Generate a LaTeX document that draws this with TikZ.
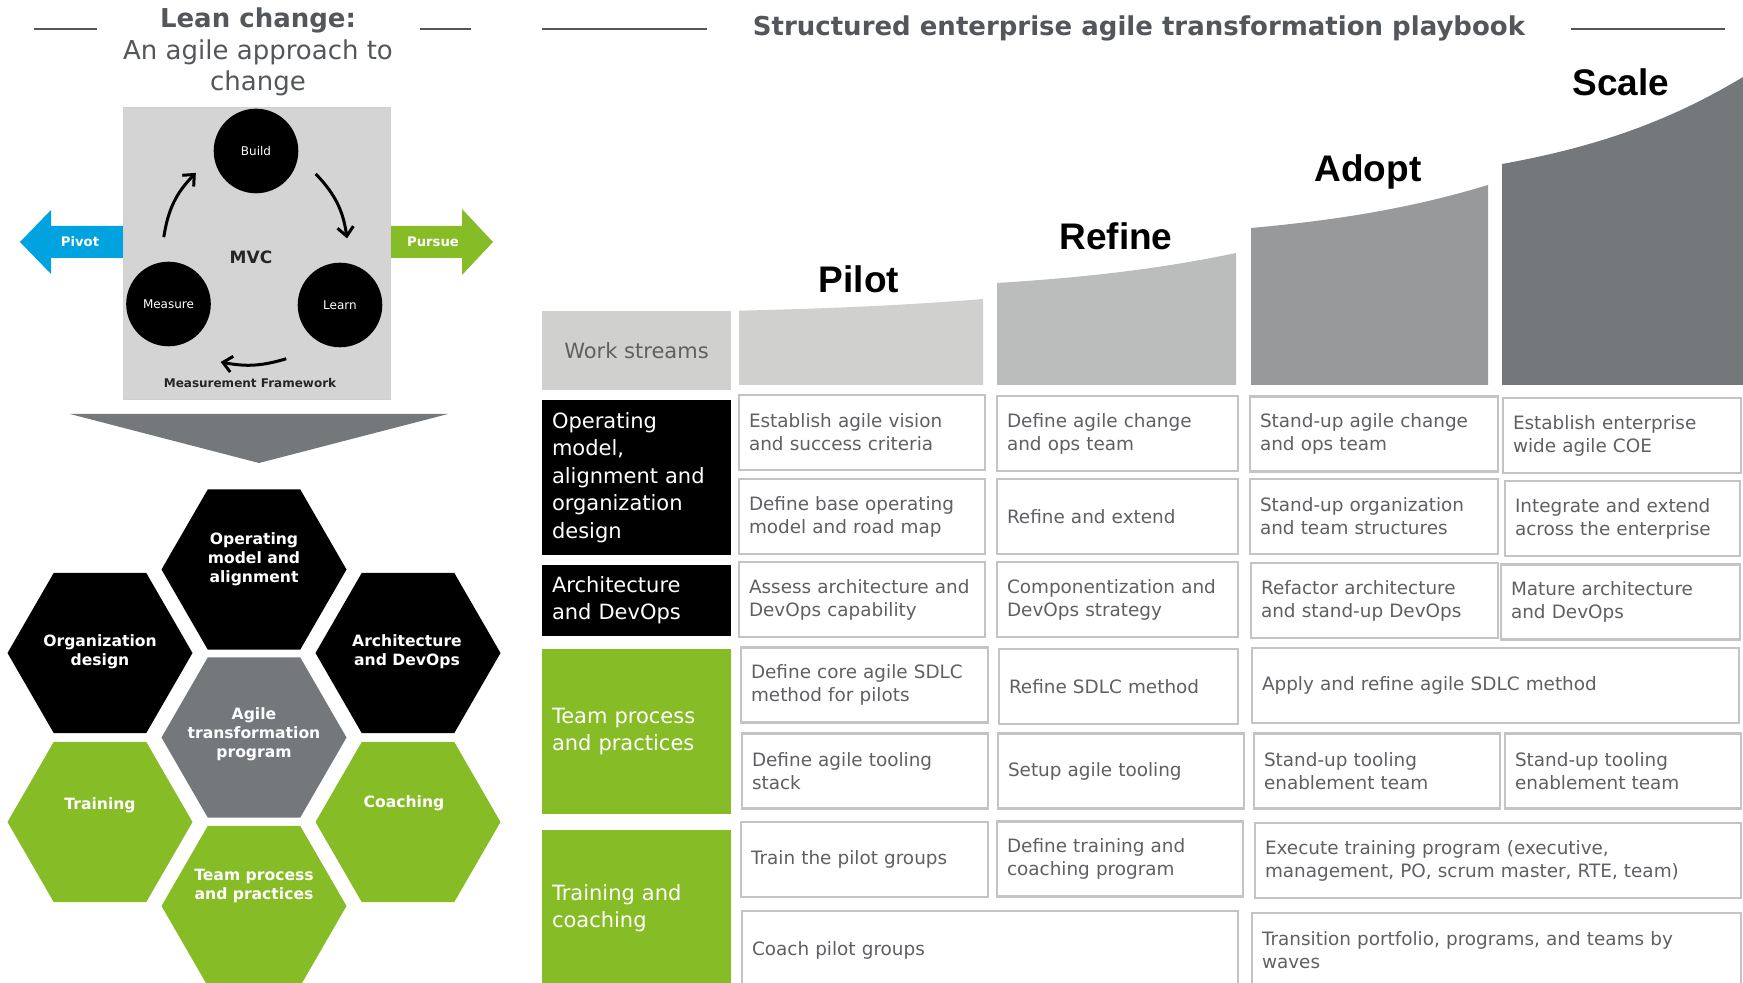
\documentclass[tikz,border=0pt]{standalone}
\usepackage{fontspec}
\setmainfont{DejaVu Sans}
\newfontfamily\stagefont{Liberation Sans}
\usetikzlibrary{arrows.meta,shapes.geometric}

\definecolor{agreen}{HTML}{86BC25}
\definecolor{ablue}{HTML}{00A3E0}
\definecolor{greyA}{HTML}{D0D0CE}
\definecolor{greyB}{HTML}{BBBCBC}
\definecolor{greyC}{HTML}{97999B}
\definecolor{greyD}{HTML}{75787B}
\definecolor{mvcgrey}{HTML}{D4D4D4}
\definecolor{titlegrey}{HTML}{53565A}
\definecolor{txtgrey}{HTML}{5F6063}
\definecolor{cellline}{HTML}{C4C4C4}

\begin{document}
\begin{tikzpicture}[
            x = 0.5pt, y = -0.5pt, % one unit = one pixel, y downwards
            rule/.style = {titlegrey, line width=1pt},
            heading/.style = {anchor=base, text=titlegrey, font=\fontsize{13}{15.5}\selectfont},
            stage/.style = {anchor=base, font=\stagefont\bfseries\fontsize{18.5}{20}\selectfont},
            cycnode/.style = {circle, fill=black, minimum size=42.3pt, inner sep=0pt,
                              text=white, font=\fontsize{6}{7}\selectfont},
            cyc/.style = {-{Straight Barb[length=4.5pt,width=8pt]}, line width=1.5pt, bend left=18},
            hexa/.style = {regular polygon, regular polygon sides=6, minimum size=92.5pt, inner sep=0pt},
            hextext/.style = {text=white, align=center, font=\bfseries\fontsize{7.8}{9.6}\selectfont},
            hdr/.style = {text=white, align=left, inner xsep=5pt, inner ysep=0pt, text width=84.5pt,
                          font=\fontsize{10.5}{13.7}\selectfont},
            cell/.style = {draw=cellline, line width=1.1pt, fill=white, text=txtgrey, align=left,
                           inner xsep=5pt, inner ysep=0pt, minimum height=37.5pt,
                           font=\fontsize{9.2}{11.5}\selectfont}
        ]

    \useasboundingbox (0,0) rectangle (1743,983);
    \clip (0,0) rectangle (1743,983);

    % left: lean change
    \node[heading, font=\bfseries\fontsize{13}{15.5}\selectfont] (lean) at (258,28) {Lean change:};
    \node[heading] (leansub) at (258,60) {An agile approach to};
    \node[heading] (leansub2) at (258,91) {change};
    \draw[rule] (34,29) -- (97,29);
    \draw[rule] (420,29) -- (471,29);

    \fill[ablue] (20,242) -- (51,210) -- (51,226) -- (130,226) -- (130,258) -- (51,258) -- (51,274) -- cycle;
    \fill[agreen] (383,226) -- (462,226) -- (462,209) -- (493,242) -- (462,275) -- (462,258) -- (383,258) -- cycle;
    \node[text=white, font=\bfseries\fontsize{6.6}{8}\selectfont] (pivot) at (80,242) {Pivot};
    \node[text=white, font=\bfseries\fontsize{6.6}{8}\selectfont] (pursue) at (433,242) {Pursue};

    \node[fill=mvcgrey, draw=greyA, minimum width=133.5pt, minimum height=146pt] (mvcbox) at (256.5,253) {};
    \node[cycnode] (build) at (256,151) {Build};
    \node[cycnode] (measure) at (168.5,304) {Measure};
    \node[cycnode] (learn) at (340,305) {Learn};
    \node[font=\bfseries\fontsize{8.5}{10}\selectfont, text=black!85] (mvc) at (251,257) {MVC};
    \node[font=\bfseries\fontsize{6}{7}\selectfont, text=black!85] (mframe) at (250,383) {Measurement Framework};

    % loop arrows, ends kept off the circles
    \coordinate (mb1) at ([shift={(94:33.5pt)}]measure.center);
    \coordinate (mb2) at ([shift={(200:32pt)}]build.center);
    \coordinate (bl1) at ([shift={(339:32pt)}]build.center);
    \coordinate (bl2) at ([shift={(84:33.5pt)}]learn.center);
    \coordinate (lm1) at ([shift={(225:38pt)}]learn.center);
    \coordinate (lm2) at ([shift={(312:39pt)}]measure.center);
    \draw[cyc] (mb1) to (mb2);
    \draw[cyc] (bl1) to (bl2);
    \draw[cyc, bend left=14] (lm1) to (lm2);

    \fill[greyD] (70,414) -- (448,414) -- (259,463) -- cycle;

    % hexagons
    \node[hexa, fill=black] (hop) at (254,569.5) {};
    \node[hexa, fill=black] (horg) at (100,653) {};
    \node[hexa, fill=black] (harch) at (408,653) {};
    \node[hexa, fill=greyD] (hagile) at (254,737.5) {};
    \node[hexa, fill=agreen] (htrain) at (100,822) {};
    \node[hexa, fill=agreen] (hcoach) at (408,822) {};
    \node[hexa, fill=agreen] (hteam) at (254,906) {};
    \node[hextext] (top) at (254,559) {Operating\\model and\\alignment};
    \node[hextext] (torg) at (100,652) {Organization\\design};
    \node[hextext] (tarch) at (407,652) {Architecture\\and DevOps};
    \node[hextext] (tagile) at (254,734) {Agile\\transformation\\program};
    \node[hextext] (ttrain) at (100,805) {Training};
    \node[hextext] (tcoach) at (404,803) {Coaching};
    \node[hextext] (tteam) at (254,886) {Team process\\and practices};

    % right: playbook
    \node[heading, font=\bfseries\fontsize{13}{15.5}\selectfont] (playbook) at (1139,36)
        {Structured enterprise agile transformation playbook};
    \draw[rule] (542,29) -- (707,29);
    \draw[rule] (1571,29) -- (1725,29);

    \fill[greyA] (739,385) -- (739,310.7) .. controls (836.6,308.4) and (909.8,304.9) .. (983,299) -- (983,385) -- cycle;
    \fill[greyB] (997,385) -- (997,283) .. controls (1092.6,277) and (1164.3,268) .. (1236,253) -- (1236,385) -- cycle;
    \fill[greyC] (1251,385) -- (1251,228) .. controls (1345.8,219.4) and (1416.9,206.5) .. (1488,185) -- (1488,385) -- cycle;
    \fill[greyD] (1502,385) -- (1502,164) .. controls (1598.4,146.6) and (1670.7,120.5) .. (1743,77) -- (1743,385) -- cycle;
    \node[stage] (pilot) at (859,293) {Pilot};
    \node[stage] (refine) at (1116,250) {Refine};
    \node[stage] (adopt) at (1368,182) {Adopt};
    \node[stage] (scale) at (1621,96) {Scale};

    % work stream headers
    \node[fill=greyA, text=txtgrey, minimum width=94.5pt, minimum height=39.5pt,
          font=\fontsize{10.5}{13}\selectfont] (ws) at (636.5,350.5) {Work streams};
    \node[hdr, fill=black, minimum height=77.5pt] (om) at (636.5,477.5)
        {Operating\\model,\\alignment and\\organization\\design};
    \node[hdr, fill=black, minimum height=35.5pt] (ad) at (636.5,600.5) {Architecture\\and DevOps};
    \node[hdr, fill=agreen, minimum height=82.5pt] (tp) at (636.5,731.5) {Team process\\and practices};
    \node[hdr, fill=agreen, minimum height=78pt] (tc) at (636.5,908) {Training and\\coaching};

    % activities
    \node[cell, text width=113pt] (p1) at (862,432.5) {Establish agile vision\\and success criteria};
    \node[cell, text width=110.5pt] (r1) at (1117.5,433.5) {Define agile change\\and ops team};
    \node[cell, text width=114pt] (a1) at (1374,434) {Stand-up agile change\\and ops team};
    \node[cell, text width=109pt] (s1) at (1622,435.5) {Establish enterprise\\wide agile COE};

    \node[cell, text width=113pt] (p2) at (862,516.5) {Define base operating\\model and road map};
    \node[cell, text width=110.5pt] (r2) at (1117.5,516.5) {Refine and extend};
    \node[cell, text width=114pt] (a2) at (1374,516.5) {Stand-up organization\\and team structures};
    \node[cell, text width=107.5pt] (s2) at (1622.5,518.5) {Integrate and extend\\across the enterprise};

    \node[cell, text width=113pt] (p3) at (862,599.5) {Assess architecture and\\DevOps capability};
    \node[cell, text width=110.5pt] (r3) at (1117.5,599.5) {Componentization and\\DevOps strategy};
    \node[cell, text width=113.5pt] (a3) at (1374.5,600.5) {Refactor architecture\\and stand-up DevOps};
    \node[cell, text width=109.5pt] (s3) at (1620.5,602) {Mature architecture\\and DevOps};

    \node[cell, text width=113.5pt] (p4) at (864.5,685) {Define core agile SDLC\\method for pilots};
    \node[cell, text width=109.5pt] (r4) at (1118.5,686.5) {Refine SDLC method};
    \node[cell, text width=233.5pt] (as4) at (1495.5,685.5) {Apply and refine agile SDLC method};

    \node[cell, text width=113pt] (p5) at (865,771) {Define agile tooling\\stack};
    \node[cell, text width=113pt] (r5) at (1121,771) {Setup agile tooling};
    \node[cell, text width=113pt] (a5) at (1377,771) {Stand-up tooling\\enablement team};
    \node[cell, text width=108pt] (s5) at (1623,771) {Stand-up tooling\\enablement team};

    \node[cell, text width=113.5pt] (p6) at (864.5,859.5) {Train the pilot groups};
    \node[cell, text width=113pt] (r6) at (1120,859) {Define training and\\coaching program};
    \node[cell, text width=233pt] (as6) at (1498,860.5)
        {Execute training program (executive,\\management, PO, scrum master, RTE, team)};

    \node[cell, text width=238pt, minimum height=39.5pt] (pr7) at (990,950.5) {Coach pilot groups};
    \node[cell, text width=234.5pt] (as7) at (1496.5,950.5) {Transition portfolio, programs, and teams by\\waves};

\end{tikzpicture}
\end{document}
